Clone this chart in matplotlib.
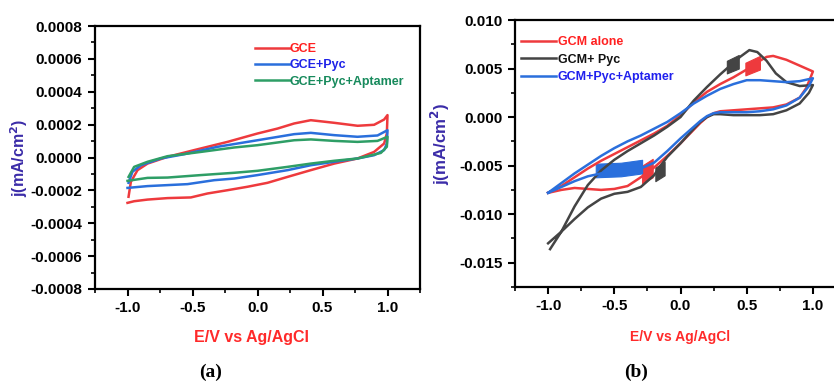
import matplotlib
matplotlib.use("Agg")
import matplotlib.pyplot as plt
from matplotlib.ticker import MultipleLocator, AutoMinorLocator, FuncFormatter

plt.rcParams['font.family'] = ['Liberation Sans', 'DejaVu Sans']
plt.rcParams['font.weight'] = 'bold'

# ---------------- panel (a): GCE ----------------
gce_fwd_E = [-0.992, -0.974, -0.923, -0.846, -0.692, -0.487, -0.231, 0.0, 0.154, 0.282, 0.41, 0.59, 0.77, 0.897, 0.974, 1.0]
gce_fwd_j = [-0.000239, -0.000148, -0.000077, -0.000037, 0.000004, 0.000045, 0.000095, 0.000146, 0.000176, 0.000207, 0.000227, 0.000211, 0.000193, 0.000199, 0.000231, 0.000258]
gce_rev_E = [1.0, 0.995, 0.974, 0.897, 0.769, 0.59, 0.41, 0.231, 0.077, -0.077, -0.231, -0.385, -0.513, -0.692, -0.846, -0.949, -1.0]
gce_rev_j = [0.000258, 0.000146, 0.000085, 0.000034, -0.000006, -0.000037, -0.000077, -0.000118, -0.000154, -0.000178, -0.000199, -0.000219, -0.000243, -0.000247, -0.000256, -0.000266, -0.000276]

pyc_fwd_E = [-0.992, -0.962, -0.897, -0.744, -0.564, -0.308, 0.0, 0.282, 0.41, 0.59, 0.769, 0.923, 1.0]
pyc_fwd_j = [-0.000154, -0.000087, -0.000047, -0.000006, 0.00002, 0.000065, 0.000105, 0.000142, 0.00015, 0.000136, 0.000126, 0.000134, 0.000166]
pyc_rev_E = [1.0, 0.995, 0.974, 0.897, 0.769, 0.59, 0.41, 0.231, 0.0, -0.179, -0.333, -0.538, -0.692, -0.846, -1.0]
pyc_rev_j = [0.000166, 0.000085, 0.000045, 0.000014, -0.000006, -0.000026, -0.000047, -0.000077, -0.000107, -0.000128, -0.000138, -0.000162, -0.000168, -0.000174, -0.000185]

apt_fwd_E = [-0.992, -0.949, -0.846, -0.692, -0.436, -0.179, 0.0, 0.282, 0.41, 0.59, 0.769, 0.923, 1.0]
apt_fwd_j = [-0.000118, -0.000057, -0.000026, 0.000008, 0.000034, 0.000061, 0.000075, 0.000105, 0.00011, 0.000101, 0.000095, 0.000101, 0.000126]
apt_rev_E = [1.0, 0.995, 0.949, 0.846, 0.769, 0.59, 0.41, 0.231, 0.0, -0.179, -0.436, -0.692, -0.846, -1.0]
apt_rev_j = [0.000126, 0.000065, 0.000028, 0.000008, -0.000006, -0.00002, -0.000037, -0.000057, -0.000081, -0.000093, -0.000107, -0.000122, -0.000124, -0.000142]

# ---------------- panel (b): GCM ----------------
gcm_fwd_E = [-1.0, -0.9, -0.8, -0.7, -0.6, -0.5, -0.4, -0.3, -0.2, -0.1, 0.0, 0.1, 0.2, 0.3, 0.4, 0.5, 0.6, 0.65, 0.7, 0.8, 0.9, 0.95, 1.0]
gcm_fwd_j = [-0.0078, -0.0071, -0.0062, -0.0053, -0.0045, -0.0038, -0.0031, -0.0024, -0.0017, -0.0009, 0.0002, 0.0015, 0.0026, 0.0034, 0.0041, 0.0049, 0.0058, 0.0062, 0.0063, 0.0059, 0.0053, 0.0050, 0.0047]
gcm_rev_E = [1.0, 0.98, 0.95, 0.9, 0.8, 0.7, 0.6, 0.5, 0.4, 0.3, 0.25, 0.2, 0.15, 0.1, 0.0, -0.1, -0.2, -0.3, -0.4, -0.5, -0.6, -0.7, -0.8, -0.9, -1.0]
gcm_rev_j = [0.0047, 0.0040, 0.0030, 0.0020, 0.0013, 0.0010, 0.0009, 0.0008, 0.0007, 0.0006, 0.0004, 0.0000, -0.0006, -0.0013, -0.0027, -0.0040, -0.0052, -0.0062, -0.0071, -0.0074, -0.0075, -0.0074, -0.0073, -0.0075, -0.0078]

gpy_fwd_E = [-0.985, -0.9, -0.8, -0.7, -0.6, -0.5, -0.4, -0.3, -0.2, -0.1, 0.0, 0.1, 0.2, 0.3, 0.4, 0.45, 0.52, 0.58, 0.65, 0.72, 0.8, 0.9, 1.0]
gpy_fwd_j = [-0.0136, -0.0118, -0.0092, -0.0070, -0.0055, -0.0044, -0.0035, -0.0027, -0.0019, -0.0010, 0.0000, 0.0017, 0.0031, 0.0044, 0.0056, 0.0062, 0.0069, 0.0067, 0.0058, 0.0045, 0.0036, 0.0032, 0.0033]
gpy_rev_E = [1.0, 0.97, 0.9, 0.8, 0.7, 0.6, 0.5, 0.4, 0.3, 0.25, 0.2, 0.15, 0.1, 0.0, -0.1, -0.15, -0.2, -0.3, -0.4, -0.5, -0.6, -0.7, -0.8, -0.9, -1.0]
gpy_rev_j = [0.0033, 0.0025, 0.0014, 0.0007, 0.0003, 0.0002, 0.0002, 0.0002, 0.0003, 0.0003, 0.0000, -0.0005, -0.0012, -0.0027, -0.0041, -0.0050, -0.0060, -0.0072, -0.0077, -0.0079, -0.0084, -0.0093, -0.0105, -0.0118, -0.0130]

gap_fwd_E = [-1.0, -0.9, -0.8, -0.7, -0.6, -0.5, -0.4, -0.3, -0.2, -0.1, 0.0, 0.1, 0.2, 0.3, 0.4, 0.5, 0.6, 0.7, 0.8, 0.9, 1.0]
gap_fwd_j = [-0.0078, -0.0068, -0.0058, -0.0049, -0.0040, -0.0032, -0.0025, -0.0019, -0.0012, -0.0005, 0.0004, 0.0014, 0.0022, 0.0029, 0.0034, 0.0038, 0.0038, 0.0037, 0.0036, 0.0037, 0.0040]
gap_rev_E = [1.0, 0.97, 0.9, 0.8, 0.7, 0.6, 0.5, 0.4, 0.3, 0.25, 0.2, 0.15, 0.1, 0.0, -0.1, -0.2, -0.3, -0.4, -0.5, -0.6, -0.7, -0.8, -0.9, -1.0]
gap_rev_j = [0.0040, 0.0032, 0.0020, 0.0012, 0.0008, 0.0006, 0.0005, 0.0005, 0.0005, 0.0004, 0.0001, -0.0004, -0.0010, -0.0022, -0.0035, -0.0047, -0.0053, -0.0055, -0.0057, -0.0058, -0.0061, -0.0066, -0.0072, -0.0078]

# noisy stretches (dense oscillation) given as envelopes
gcm_noise_fwd = ([0.49, 0.60], [0.0043, 0.0049], [0.0056, 0.0063])
gcm_noise_rev = ([-0.29, -0.21], [-0.0068, -0.0062], [-0.0050, -0.0043])
gpy_noise_fwd = ([0.35, 0.44], [0.0045, 0.0050], [0.0058, 0.0064])
gpy_noise_rev = ([-0.19, -0.12], [-0.0066, -0.0060], [-0.0052, -0.0046])
gap_noise_rev = ([-0.64, -0.45, -0.29], [-0.0062, -0.0061, -0.0058], [-0.0048, -0.0047, -0.0044])

labels_a = ['GCE', 'GCE+Pyc', 'GCE+Pyc+Aptamer']
labels_b = ['GCM alone', 'GCM+ Pyc', 'GCM+Pyc+Aptamer']

RED = '#EE3A3D'
BLUE = '#2A6FDC'
GREEN = '#2E9E66'
GRAY = '#444444'


def style_axes(ax, ymaj, fmt):
    ax.set_xlim(-1.25, 1.25)
    ax.xaxis.set_major_locator(MultipleLocator(0.5))
    ax.xaxis.set_minor_locator(AutoMinorLocator(2))
    ax.yaxis.set_major_locator(MultipleLocator(ymaj))
    ax.yaxis.set_minor_locator(AutoMinorLocator(2))
    ax.xaxis.set_major_formatter(FuncFormatter(lambda v, p: '%.1f' % (0.0 if abs(v) < 1e-9 else v)))
    ax.yaxis.set_major_formatter(FuncFormatter(lambda v, p: fmt % (0.0 if abs(v) < 1e-12 else v)))
    ax.tick_params(which='major', direction='out', length=5, width=1.5, labelsize=11, pad=4)
    ax.tick_params(which='minor', direction='out', length=3, width=1.2)
    for s in ax.spines.values():
        s.set_linewidth(1.6)
    for t in ax.get_xticklabels() + ax.get_yticklabels():
        t.set_fontweight('bold')


fig = plt.figure(figsize=(8.34, 3.83), dpi=100)

# panel (a)
ax1 = fig.add_axes([95 / 834, 94 / 383, 325 / 834, 263 / 383])
for fE, fj, rE, rj, c, lab in [(gce_fwd_E, gce_fwd_j, gce_rev_E, gce_rev_j, RED, labels_a[0]),
                               (pyc_fwd_E, pyc_fwd_j, pyc_rev_E, pyc_rev_j, BLUE, labels_a[1]),
                               (apt_fwd_E, apt_fwd_j, apt_rev_E, apt_rev_j, GREEN, labels_a[2])]:
    ax1.plot(fE + rE, fj + rj, color=c, lw=1.8, label=lab)
ax1.set_ylim(-0.0008, 0.0008)
style_axes(ax1, 0.0002, '%.4f')
ax1.set_xlabel('E/V vs Ag/AgCl', color='#FF2A2A', fontsize=11.5, fontweight='bold')
ax1.xaxis.set_label_coords(0.48, -0.155)
ax1.set_ylabel('j(mA/cm$^\\mathbf{2}$)', color='#3B2CA8', fontsize=11.5, fontweight='bold')
ax1.yaxis.set_label_coords(-0.2, 0.5)
leg1 = ax1.legend(loc='upper left', bbox_to_anchor=(0.492, 0.935), frameon=False, fontsize=9,
                  handlelength=2.8, handletextpad=0.0, labelspacing=0.35, borderpad=0, borderaxespad=0)
for t, c in zip(leg1.get_texts(), ['#FF2020', '#1E22E8', '#178A5C']):
    t.set_color(c)

# panel (b)
ax2 = fig.add_axes([515 / 834, 96 / 383, 331 / 834, 267 / 383])
ax2.plot(gcm_fwd_E + gcm_rev_E, gcm_fwd_j + gcm_rev_j, color=RED, lw=1.8, label=labels_b[0])
ax2.plot(gpy_fwd_E + gpy_rev_E, gpy_fwd_j + gpy_rev_j, color=GRAY, lw=1.8, label=labels_b[1])
ax2.plot(gap_fwd_E + gap_rev_E, gap_fwd_j + gap_rev_j, color=BLUE, lw=1.8, label=labels_b[2])
for band, c in [(gcm_noise_fwd, RED), (gcm_noise_rev, RED), (gpy_noise_fwd, GRAY),
                (gpy_noise_rev, GRAY), (gap_noise_rev, BLUE)]:
    ax2.fill_between(band[0], band[1], band[2], color=c, lw=0.8)
ax2.set_ylim(-0.0175, 0.010)
style_axes(ax2, 0.005, '%.3f')
ax2.set_xlabel('E/V vs Ag/AgCl', color='#FF2A2A', fontsize=10, fontweight='bold')
ax2.xaxis.set_label_coords(0.5, -0.16)
ax2.set_ylabel('j(mA/cm$^\\mathbf{2}$)', color='#3B2CA8', fontsize=12.2, fontweight='bold')
ax2.yaxis.set_label_coords(-0.19, 0.536)
leg2 = ax2.legend(loc='upper left', bbox_to_anchor=(0.018, 0.94), frameon=False, fontsize=9,
                  handlelength=2.8, handletextpad=0.15, labelspacing=0.45, borderpad=0, borderaxespad=0)
for t, c in zip(leg2.get_texts(), ['#FF2020', '#111111', '#2020EE']):
    t.set_color(c)

fig.text(211 / 834, 1 - 372 / 383, '(a)', ha='center', va='center', fontsize=14,
         family='Liberation Serif', fontweight='bold')
fig.text(636 / 834, 1 - 372 / 383, '(b)', ha='center', va='center', fontsize=14,
         family='Liberation Serif', fontweight='bold')

fig.savefig('out.png', dpi=100)
